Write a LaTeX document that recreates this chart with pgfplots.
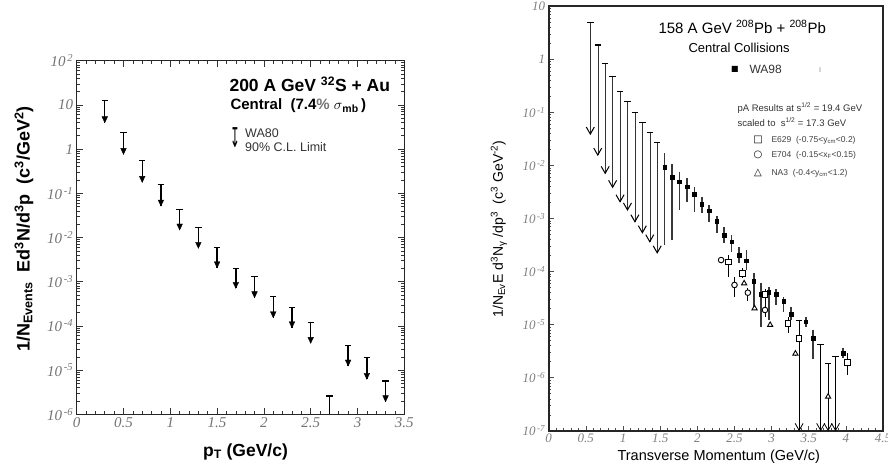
\documentclass[border=0pt]{standalone}
\usepackage{fontspec}
\setmainfont{Liberation Sans}
\newfontfamily\serifit{Liberation Serif}
\newfontfamily\dejavu{DejaVu Sans}
\usepackage{graphicx}
\usepackage{pgfplots}
\pgfplotsset{compat=1.18}
\usepackage{pgfplotstable}

\pgfdeclareplotmark{larrow}{%
  \pgfpathmoveto{\pgfpointorigin}%
  \pgfpathlineto{\pgfpoint{-2.8pt}{6pt}}%
  \pgfpathlineto{\pgfpoint{2.8pt}{6pt}}%
  \pgfpathclose
  \pgfusepathqfillstroke}
\pgfdeclareplotmark{varrow}{%
  \pgfpathmoveto{\pgfpoint{-4pt}{7pt}}%
  \pgfpathlineto{\pgfpointorigin}%
  \pgfpathlineto{\pgfpoint{4pt}{7pt}}%
  \pgfusepathqstroke}
\pgfdeclareplotmark{cap}{%
  \pgfpathmoveto{\pgfpoint{-3.2pt}{0pt}}%
  \pgfpathlineto{\pgfpoint{3.2pt}{0pt}}%
  \pgfusepathqstroke}

\newcommand{\tx}[1]{{\serifit\itshape #1}}
\newcommand{\tp}[1]{{\serifit\itshape 10\textsuperscript{\,#1}}}
\newcommand{\fs}[1]{\fontsize{#1}{#1}\selectfont}

% WA80 upper limits (left panel): x, top of limit, arrow tip
\pgfplotstableread{
x top tip
0.3 12.4 3.96
0.5 2.35 0.762
0.7 0.558 0.177
0.9 0.160 0.0516
1.1 0.0426 0.0148
1.3 0.0167 0.0057
1.5 0.0060 0.00207
1.7 0.00201 7.1e-4
1.9 1.30e-3 4.35e-4
2.1 4.58e-4 1.53e-4
2.3 2.64e-4 9.1e-5
2.5 1.21e-4 4.04e-5
2.9 3.56e-5 1.24e-5
3.1 1.91e-5 6.2e-6
3.3 5.66e-6 1.93e-6
}\walim

% WA98 upper limits, low pT
\pgfplotstableread{
x top tip
0.56 4.9 0.039
0.66 1.86 0.0157
0.76 0.84 0.0071
0.86 0.47 0.00387
0.96 0.245 0.00207
1.06 0.158 0.00145
1.16 0.098 8.7e-4
1.26 0.064 5.4e-4
1.36 0.042 3.66e-4
1.46 0.0268 2.26e-4
}\walow

% WA98 upper limits, high pT
\pgfplotstableread{
x top tip
3.66 4.25e-6 1.02e-7
3.86 2.53e-6 1.02e-7
}\wahigh

% WA98 measured points
\pgfplotstableread{
x y lo hi
1.56 9.2e-3 3.2e-4 1.69e-2
1.66 5.97e-3 3.9e-4 1.06e-2
1.76 4.93e-3 1.45e-3 7.6e-3
1.86 3.97e-3 2.07e-3 5.7e-3
1.96 2.89e-3 1.34e-3 3.97e-3
2.06 1.87e-3 1.25e-3 2.57e-3
2.16 1.40e-3 8.7e-4 1.79e-3
2.26 8.96e-4 5.3e-4 1.11e-3
2.36 4.89e-4 3.4e-4 6.8e-4
2.46 3.68e-4 2.37e-4 4.9e-4
2.56 2.05e-4 1.43e-4 2.95e-4
2.66 1.6e-4 1.07e-4 2.55e-4
2.76 6.6e-5 2.0e-5 9.3e-5
2.86 3.72e-5 8.9e-6 6.2e-5
2.96 4.06e-5 1.22e-5 5.2e-5
3.06 3.72e-5 2.34e-5 4.6e-5
3.16 2.79e-5 1.75e-5 3.36e-5
3.26 1.58e-5 1.22e-5 2.18e-5
3.46 1.13e-5 8.9e-6 1.41e-5
3.56 5.5e-6 2.3e-6 7.9e-6
3.96 2.9e-6 2.4e-6 3.6e-6
}\wa

% E629 (open squares)
\pgfplotstableread{
x y lo hi
2.42 1.53e-4 8.0e-5 2.05e-4
2.61 9.2e-5 7.5e-5 1.15e-4
2.91 3.7e-5 2.5e-5 4.6e-5
3.22 1.06e-5 6.9e-6 1.41e-5
3.37 5.5e-6 1.02e-7 1.19e-5
4.02 1.95e-6 1.12e-6 2.9e-6
}\ea

% E704 (open circles)
\pgfplotstableread{
x y lo hi
2.32 1.65e-4 1.5e-4 1.8e-4
2.50 5.6e-5 3.36e-5 8.0e-5
2.68 4.0e-5 2.8e-5 5.0e-5
2.91 1.89e-5 1.4e-5 2.5e-5
}\eb

% NA3 (open triangles)
\pgfplotstableread{
x y lo hi
2.63 6.0e-5 5.5e-5 6.5e-5
2.77 2.03e-5 1.9e-5 2.2e-5
2.98 9.9e-6 9.0e-6 1.1e-5
3.32 2.85e-6 2.6e-6 3.1e-6
3.76 4.4e-7 1.02e-7 1.87e-6
}\na

\begin{document}
\begin{tikzpicture}
\path[use as bounding box] (0,0) rectangle (888pt,475pt);

%================ LEFT PANEL =================
\begin{axis}[
  at={(76.7pt,60.7pt)}, anchor=south west, scale only axis,
  width=327.6pt, height=353.6pt,
  ymode=log, xmin=0, xmax=3.5, ymin=1e-6, ymax=1e2,
  xtick={0,0.5,1,1.5,2,2.5,3,3.5}, minor x tick num=4,
  xticklabels={\tx{0},\tx{0.5},\tx{1},\tx{1.5},\tx{2},\tx{2.5},\tx{3},\tx{3.5}},
  ytick={1e-6,1e-5,1e-4,1e-3,1e-2,1e-1,1,10,100},
  minor ytick={2e-6,3e-6,4e-6,5e-6,6e-6,7e-6,8e-6,9e-6,2e-5,3e-5,4e-5,5e-5,6e-5,7e-5,8e-5,9e-5,2e-4,3e-4,4e-4,5e-4,6e-4,7e-4,8e-4,9e-4,2e-3,3e-3,4e-3,5e-3,6e-3,7e-3,8e-3,9e-3,0.02,0.03,0.04,0.05,0.06,0.07,0.08,0.09,0.2,0.3,0.4,0.5,0.6,0.7,0.8,0.9,2,3,4,5,6,7,8,9,20,30,40,50,60,70,80,90},
  yticklabels={\tp{-6},\tp{-5},\tp{-4},\tp{-3},\tp{-2},\tp{-1},\tx{1},\tx{10},\tp{2}},
  tick align=inside, major tick length=6pt, minor tick length=3pt,
  axis line style={line width=1.2pt, black!85},
  every tick/.style={black!80, line width=0.6pt},
  ticklabel style={text=black!55, font=\fs{15}},
  clip=false,
]
\addplot[black, only marks, mark=cap, mark options={line width=1.2pt},
  error bars/.cd, y dir=minus, y explicit, error mark=none,
  error bar style={line width=1.4pt, black}]
  table[x=x, y=top, y error minus expr=\thisrow{top}-\thisrow{tip}] {\walim};
\addplot[black, only marks, mark=larrow, mark options={line width=0.4pt}]
  table[x=x, y=tip] {\walim};
\addplot[black, only marks, mark=cap, mark options={line width=1.2pt},
  error bars/.cd, y dir=minus, y explicit, error mark=none,
  error bar style={line width=1.4pt, black}]
  coordinates {(2.7,2.6e-6) -= (0,1.6e-6)};
\end{axis}

\node[anchor=west, font=\fs{17.5}\bfseries] at (226pt,390.7pt) {200 A GeV \textsuperscript{32}S + Au};
\node[anchor=west, font=\fs{15}\bfseries] at (227pt,369pt) {Central\ \ (7.4{\color{black!55}\%} $\sigma$\textsubscript{mb}\,)};
\node[font=\dejavu\fs{13}, inner sep=0pt] at (235pt,337pt) {\scalebox{0.9}[2.1]{↧}};
\node[anchor=west, font=\fontsize{12.5}{14.5}\selectfont, text=black!80, inner sep=1pt, align=left] at (244pt,335pt) {WA80\\90\% C.L. Limit};
\node[font=\fs{17.5}\bfseries] at (245.5pt,23.3pt) {p\textsubscript{T} (GeV/c)};
\node[rotate=90, font=\fs{18}\bfseries] at (24pt,246pt) {1/N\textsubscript{Events}\ \ Ed\textsuperscript{3}N/d\textsuperscript{3}p\ \ (c\textsuperscript{3}/GeV\textsuperscript{2})};

%================ RIGHT PANEL =================
\begin{axis}[
  at={(548.7pt,44.2pt)}, anchor=south west, scale only axis,
  width=334.4pt, height=424.6pt,
  ymode=log, xmin=0, xmax=4.5, ymin=1e-7, ymax=10,
  xtick={0,0.5,1,1.5,2,2.5,3,3.5,4,4.5}, minor x tick num=4,
  xticklabels={\tx{0},\tx{0.5},\tx{1},\tx{1.5},\tx{2},\tx{2.5},\tx{3},\tx{3.5},\tx{4},\tx{4.5}},
  ytick={1e-7,1e-6,1e-5,1e-4,1e-3,1e-2,1e-1,1,10},
  minor ytick={2e-7,3e-7,4e-7,5e-7,6e-7,7e-7,8e-7,9e-7,2e-6,3e-6,4e-6,5e-6,6e-6,7e-6,8e-6,9e-6,2e-5,3e-5,4e-5,5e-5,6e-5,7e-5,8e-5,9e-5,2e-4,3e-4,4e-4,5e-4,6e-4,7e-4,8e-4,9e-4,2e-3,3e-3,4e-3,5e-3,6e-3,7e-3,8e-3,9e-3,0.02,0.03,0.04,0.05,0.06,0.07,0.08,0.09,0.2,0.3,0.4,0.5,0.6,0.7,0.8,0.9,2,3,4,5,6,7,8,9},
  yticklabels={\tp{-7},\tp{-6},\tp{-5},\tp{-4},\tp{-3},\tp{-2},\tp{-1},\tx{1},\tx{10}},
  xtick pos=lower, ytick pos=left,
  tick align=inside, major tick length=5pt, minor tick length=2.5pt,
  axis line style={line width=2pt, black!85},
  every tick/.style={black!70, line width=0.6pt},
  ticklabel style={text=black!50, font=\fs{13}},
  clip=false,
]
% low-pT upper limits
\addplot[black, only marks, mark=cap, mark options={line width=1.3pt},
  error bars/.cd, y dir=minus, y explicit, error mark=none,
  error bar style={draw=black!80, line width=0.5pt, double=black!35, double distance=1.4pt}]
  table[x=x, y=top, y error minus expr=\thisrow{top}-\thisrow{tip}] {\walow};
\addplot[black, only marks, mark=varrow, mark options={line width=1pt}]
  table[x=x, y=tip] {\walow};
% high-pT upper limits
\addplot[black, only marks, mark=cap, mark options={line width=1pt},
  error bars/.cd, y dir=minus, y explicit, error mark=none,
  error bar style={line width=0.8pt, black}]
  table[x=x, y=top, y error minus expr=\thisrow{top}-\thisrow{tip}] {\wahigh};
\addplot[black, only marks, mark=varrow, mark options={line width=0.8pt}]
  table[x=x, y=tip] {\wahigh};
% WA98 points
\addplot[black, only marks, mark=square*, mark size=1.8pt,
  error bars/.cd, y dir=both, y explicit, error mark=none,
  error bar style={line width=1.7pt, black!78}]
  table[x=x, y=y, y error plus expr=\thisrow{hi}-\thisrow{y}, y error minus expr=\thisrow{y}-\thisrow{lo}] {\wa};
% E629
\addplot[black, only marks, mark=square*, mark size=2.8pt, mark options={fill=white, line width=0.9pt},
  error bars/.cd, y dir=both, y explicit, error mark=none,
  error bar style={line width=0.8pt, black}]
  table[x=x, y=y, y error plus expr=\thisrow{hi}-\thisrow{y}, y error minus expr=\thisrow{y}-\thisrow{lo}] {\ea};
% E704
\addplot[black, only marks, mark=*, mark size=2.8pt, mark options={fill=white, line width=0.9pt},
  error bars/.cd, y dir=both, y explicit, error mark=none,
  error bar style={line width=0.8pt, black}]
  table[x=x, y=y, y error plus expr=\thisrow{hi}-\thisrow{y}, y error minus expr=\thisrow{y}-\thisrow{lo}] {\eb};
% NA3
\addplot[black, only marks, mark=triangle*, mark size=3pt, mark options={fill=white, line width=0.9pt},
  error bars/.cd, y dir=both, y explicit, error mark=none,
  error bar style={line width=0.8pt, black}]
  table[x=x, y=y, y error plus expr=\thisrow{hi}-\thisrow{y}, y error minus expr=\thisrow{y}-\thisrow{lo}] {\na};
% caps and arrows of the long E629 / NA3 bars
\addplot[black, only marks, mark=cap, mark options={line width=1pt}]
  coordinates {(3.37,1.19e-5) (3.76,1.87e-6)};
\addplot[black, only marks, mark=varrow, mark options={line width=0.8pt}]
  coordinates {(3.37,1.02e-7) (3.76,1.02e-7)};
\end{axis}

\node[anchor=west, font=\fs{15}] at (655pt,448pt) {158 A GeV \textsuperscript{208}Pb + \textsuperscript{208}Pb};
\node[anchor=west, font=\fs{13}] at (685pt,427pt) {Central Collisions};
\node[font=\dejavu\fs{8}] at (735pt,406pt) {■};
\node[anchor=west, font=\fs{12}, text=black!80] at (746pt,406pt) {WA98};
\node[font=\fs{9}, text=black!40] at (820pt,405pt) {ı};
\node[anchor=west, font=\fs{9.5}, text=black!80] at (734pt,367pt) {pA Results at s\textsuperscript{1/2} = 19.4 GeV};
\node[anchor=west, font=\fs{9.5}, text=black!80] at (734pt,353pt) {scaled to\ \ s\textsuperscript{1/2} = 17.3 GeV};
\node[font=\dejavu\fs{10}] at (758pt,335pt) {□};
\node[font=\dejavu\fs{10}] at (758pt,320pt) {○};
\node[font=\dejavu\fs{10}] at (758pt,302pt) {△};
\node[anchor=west, font=\fs{8.5}, text=black!75] at (768pt,335pt) {E629\ \ (-0.75{<}y\textsubscript{cm}{<}0.2)};
\node[anchor=west, font=\fs{8.5}, text=black!75] at (768pt,320pt) {E704\ \ (-0.15{<}x\textsubscript{F}{<}0.15)};
\node[anchor=west, font=\fs{8.5}, text=black!75] at (768pt,302pt) {NA3\ \ (-0.4{<}y\textsubscript{cm}{<}1.2)};
\node[font=\fs{14.5}] at (718.8pt,18.3pt) {Transverse Momentum (GeV/c)};
\node[rotate=90, font=\fs{14}] at (499pt,246pt) {1/N\textsubscript{Ev}E d\textsuperscript{3}N\textsubscript{γ} /dp\textsuperscript{3}\ \ (c\textsuperscript{3} GeV\textsuperscript{-2})};
\end{tikzpicture}
\end{document}
